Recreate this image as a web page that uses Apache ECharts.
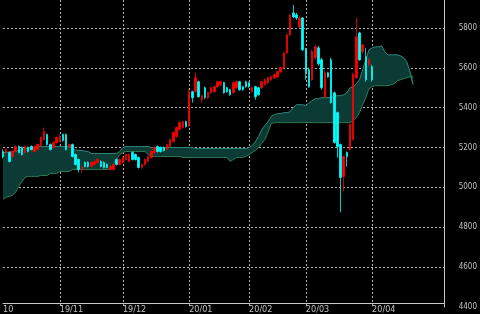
<!DOCTYPE html>
<html><head><meta charset="utf-8">
<script src="https://cdn.jsdelivr.net/npm/echarts@6/dist/echarts.min.js"></script>
<style>html,body{margin:0;padding:0;background:#000;}#c{width:480px;height:314px;}</style>
</head><body><div id="c"></div>
<script>
// trading calendar (categories)
const startDate = '2019-10-04';
const categoryCount = 141;
const holidays = ['2019-10-14','2019-10-22','2019-11-04','2019-12-31','2020-01-01','2020-01-02','2020-01-03','2020-01-13','2020-02-11','2020-02-24','2020-03-20','2020-04-29','2020-05-04','2020-05-05','2020-05-06'];
const tickDates = ['2019-10-04','2019-11-01','2019-12-02','2020-01-06','2020-02-03','2020-03-02','2020-04-01'];
const tickLabels = ['10','19/11','19/12','20/01','20/02','20/03','20/04'];
const yTicks = {min: 4400, max: 5940, interval: 200};

// [open, close, low, high]
const candles = [
[5180,5155,5145,5190],[5175,5190,5165,5195],[5175,5130,5125,5180],[5155,5180,5150,5185],[5180,5205,5175,5210],
[5205,5175,5170,5210],[5200,5165,5160,5205],[5175,5205,5170,5210],[5200,5180,5175,5205],[5205,5190,5185,5210],
[5180,5205,5175,5210],[5190,5215,5185,5220],[5210,5250,5205,5255],[5240,5280,5235,5300],[5265,5215,5210,5270],
[5215,5190,5185,5220],[5200,5225,5195,5230],[5225,5250,5220,5255],[5230,5255,5225,5265],[5265,5235,5230,5270],
[5265,5190,5185,5270],[5200,5215,5195,5220],[5215,5155,5150,5220],[5165,5115,5110,5170],[5140,5090,5075,5145],
[5090,5105,5075,5110],[5125,5105,5100,5130],[5125,5105,5100,5130],[5105,5125,5100,5130],[5115,5130,5110,5135],
[5125,5140,5120,5145],[5130,5105,5100,5135],[5125,5100,5095,5130],[5115,5100,5095,5120],[5090,5105,5085,5110],
[5090,5115,5085,5120],[5140,5115,5110,5145],[5115,5140,5110,5145],[5125,5150,5120,5155],[5140,5165,5135,5170],
[5130,5165,5125,5170],[5175,5140,5135,5180],[5165,5140,5135,5170],[5150,5100,5095,5155],[5100,5115,5095,5120],
[5115,5140,5110,5145],[5130,5155,5125,5160],[5150,5180,5145,5185],[5175,5200,5170,5205],[5205,5180,5175,5210],
[5200,5180,5175,5205],[5200,5185,5180,5205],[5190,5215,5185,5220],[5205,5240,5200,5245],[5230,5275,5225,5280],
[5255,5300,5250,5305],[5290,5325,5285,5330],[5300,5330,5295,5335],[5330,5305,5300,5335],[5310,5480,5305,5495],
[5480,5450,5425,5485],[5480,5550,5475,5575],[5530,5455,5450,5535],[5440,5460,5425,5465],[5500,5450,5445,5505],
[5450,5475,5445,5480],[5475,5500,5470,5505],[5480,5505,5475,5510],[5505,5530,5500,5535],[5515,5530,5510,5535],
[5525,5475,5470,5530],[5500,5480,5475,5505],[5490,5465,5460,5495],[5475,5525,5470,5530],[5500,5530,5495,5535],
[5530,5490,5485,5535],[5505,5490,5485,5510],[5530,5505,5500,5535],[5525,5505,5500,5530],[5480,5500,5475,5505],
[5505,5455,5440,5510],[5500,5465,5460,5505],[5500,5530,5495,5535],[5515,5540,5510,5545],[5525,5550,5520,5555],
[5540,5555,5535,5560],[5550,5565,5545,5570],[5555,5580,5550,5585],[5580,5600,5575,5605],[5600,5675,5595,5680],
[5675,5765,5670,5770],[5765,5865,5760,5870],[5875,5855,5850,5915],[5865,5850,5840,5875],[5805,5850,5800,5860],
[5850,5690,5685,5855],[5690,5580,5540,5700],[5590,5505,5500,5600],[5540,5680,5535,5690],[5650,5705,5640,5715],
[5700,5620,5610,5710],[5640,5500,5490,5650],[5455,5575,5450,5585],[5575,5555,5550,5580],[5640,5425,5420,5650],
[5475,5225,5220,5480],[5375,5205,5150,5380],[5215,5050,4875,5220],[5055,5155,4980,5160],[5175,5155,5105,5180],
[5190,5315,5185,5320],[5240,5565,5235,5575],[5550,5755,5545,5850],[5775,5640,5635,5780],[5680,5715,5670,5720],
[5655,5540,5530,5700],[5615,5640,5605,5650],[5605,5540,5530,5615]
];

// Ichimoku cloud edges (span A / span B)
const spanA = [
5175,5175,5178,5180,5182,5185,5190,5195,5198,5200,5200,
5205,5205,5205,5205,5205,5205,5205,5205,5205,5205,5205,
5195,5188,5185,5185,5182,5180,
5170,5170,5170,5170,5170,5170,5170,5170,5170,
5180,5200,
5205,5205,5205,5205,5205,5205,5205,5205,
5200,5200,5200,5200,5200,5200,5200,5200,5200,5200,5200,5200,5200,5200,
5195,5195,5195,5195,5195,5195,5195,5195,5195,5195,5195,5195,5195,5195,5195,5195,5195,
5200,5210,5230,5255,5290,5310,5330,5355,5365,5370,5370,5375,5375,5380,5400,5415,5415,5415,5410,5425,
5435,5445,5445,5450,5450,5450,5450,5460,5460,5460,5465,5475,5500,5505,5520,5540,5590,5640,5690,5700,
5705,5705,5710,5680,5665,5665,5665,5665,5660,5650,5630,5580,5515
];
const spanB = [
4940,4950,4955,4960,4975,5005,5030,5050,
5055,5055,5055,5055,5060,5060,5060,5070,5070,5070,5080,5080,5080,5080,
5090,5090,5090,5090,5090,5090,5090,5090,5090,5090,5090,5090,5090,
5115,5140,5165,5175,
5180,5180,5180,5180,5180,5180,5180,
5165,
5155,5155,5155,5155,5155,5155,5155,5155,5155,5155,
5150,5150,5150,5150,5150,5150,5150,5150,5150,5150,5150,5150,5150,5150,5150,
5130,5140,5150,5150,5150,5155,5165,5175,5185,5200,5220,5240,5275,5320,
5325,5325,5325,5325,5325,5325,5325,5325,5325,5325,5325,5325,5325,5325,5325,5325,5325,5325,5325,5325,5325,5325,5325,5325,5325,
5335,5350,5375,5415,5450,5495,5505,
5510,5510,5510,5510,5510,5515,5520,5535,5540,5545,5550,5555,5555
];

function buildDates() {
  const out = [];
  const d = new Date(startDate + 'T00:00:00Z');
  while (out.length < categoryCount) {
    const s = d.toISOString().slice(0, 10);
    const wd = d.getUTCDay();
    if (wd !== 0 && wd !== 6 && holidays.indexOf(s) < 0) out.push(s);
    d.setUTCDate(d.getUTCDate() + 1);
  }
  return out;
}
const dates = buildDates();
const cloudBase = spanA.map((a, i) => Math.min(a, spanB[i]));
const cloudBand = spanA.map((a, i) => Math.abs(a - spanB[i]));

const gridLine = {show: true, lineStyle: {color: '#b0b0b0', type: [2, 2], width: 1}};
const labelFont = "'Liberation Sans Narrow','DejaVu Sans Condensed','Liberation Sans',sans-serif";

const chart = echarts.init(document.getElementById('c'), null, {renderer: 'canvas'});
chart.setOption({
  backgroundColor: '#000000',
  animation: false,
  grid: {left: 0, right: 31, top: 0, bottom: 7, containLabel: false},
  xAxis: {
    type: 'category',
    data: dates,
    boundaryGap: false,
    offset: -4,
    axisLine: {show: true, lineStyle: {color: '#c8c8c8', width: 1}},
    axisTick: {show: false},
    axisLabel: {
      interval: (i, v) => tickDates.indexOf(v) >= 0,
      formatter: (v) => { const k = tickDates.indexOf(v); return k >= 0 ? tickLabels[k] : ''; },
      align: 'left', margin: 2, color: '#c0c0c0', fontSize: 9, fontFamily: labelFont
    },
    splitLine: Object.assign({interval: (i, v) => i > 0 && tickDates.indexOf(v) >= 0}, gridLine)
  },
  yAxis: {
    type: 'value',
    position: 'right',
    min: yTicks.min, max: yTicks.max, interval: yTicks.interval,
    axisLine: {show: true, lineStyle: {color: '#c8c8c8', width: 1}},
    axisTick: {show: false},
    axisLabel: {showMaxLabel: false, margin: 14, color: '#c0c0c0', fontSize: 8, fontFamily: labelFont,
      formatter: (v) => String(v)},
    splitLine: Object.assign({showMinLine: false, showMaxLine: false}, gridLine)
  },
  series: [
    {type: 'line', data: cloudBase, stack: 'cloud', symbol: 'none', silent: true,
     lineStyle: {opacity: 0}, z: 1},
    {type: 'line', data: cloudBand, stack: 'cloud', symbol: 'none', silent: true,
     lineStyle: {opacity: 0}, areaStyle: {color: '#0c3b36', opacity: 1}, z: 1},
    {type: 'line', data: spanA, symbol: 'none', silent: true,
     lineStyle: {color: '#2a8a7c', width: 1}, z: 2},
    {type: 'line', data: spanB, symbol: 'none', silent: true,
     lineStyle: {color: '#2e7a52', width: 1}, z: 2},
    {type: 'candlestick', data: candles, barWidth: 2, z: 3,
     itemStyle: {color: '#ff0000', color0: '#00ffff', borderColor: '#ff0000', borderColor0: '#00ffff', borderWidth: 0.8}}
  ]
});
</script></body></html>
